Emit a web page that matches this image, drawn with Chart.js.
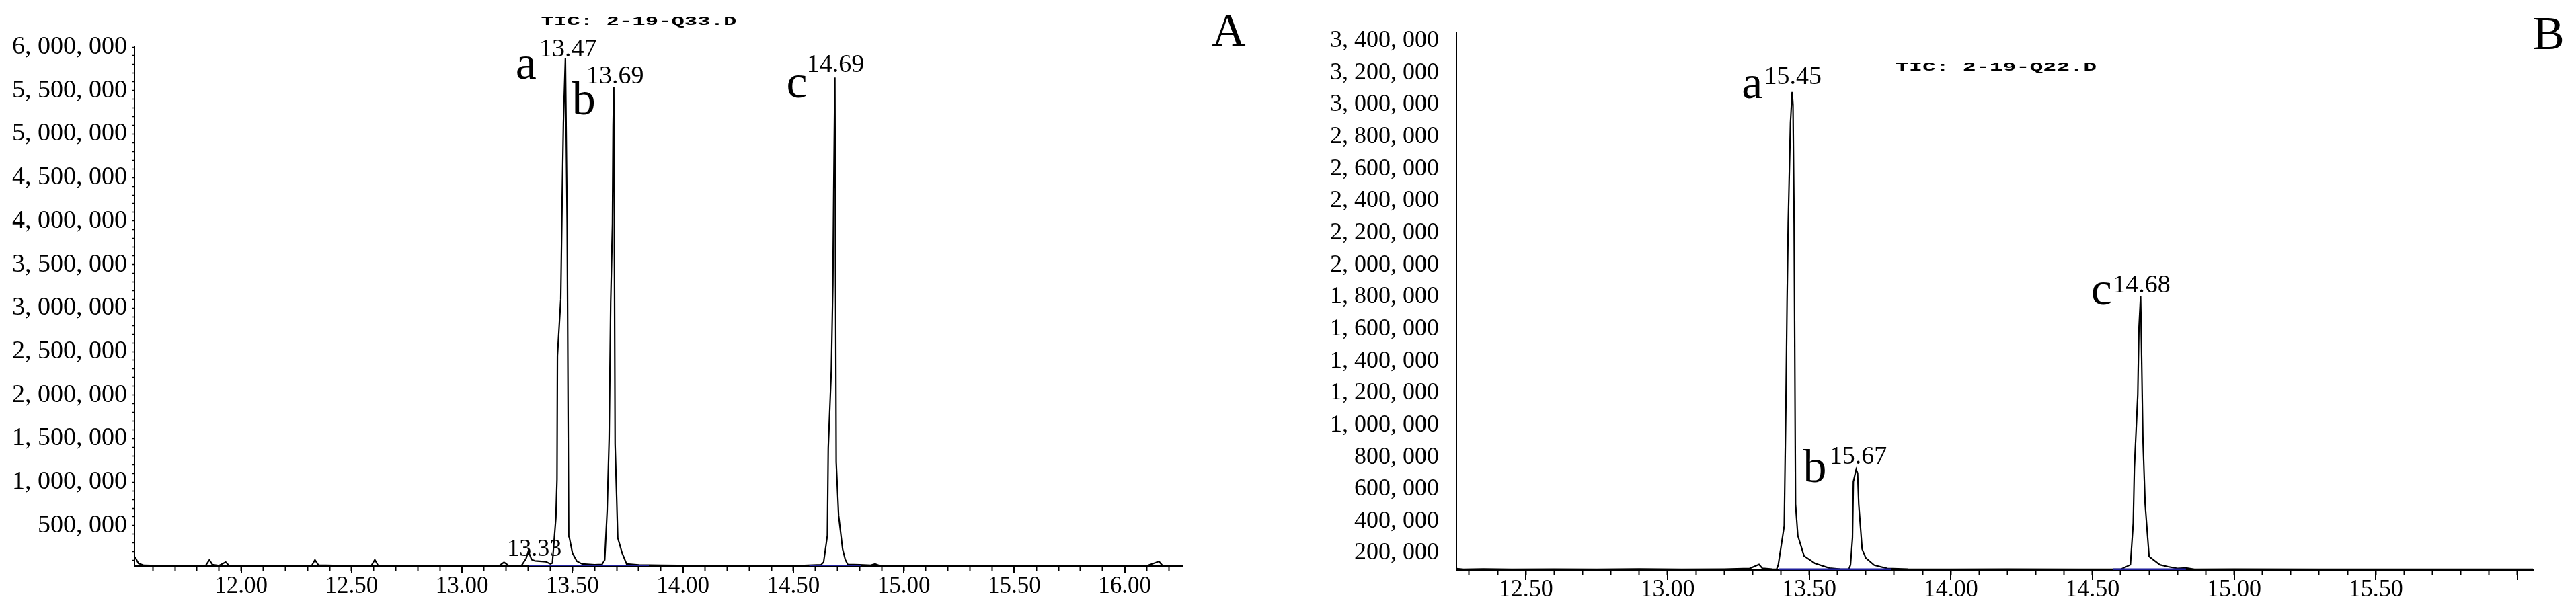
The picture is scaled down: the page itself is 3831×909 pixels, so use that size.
<!DOCTYPE html>
<html lang="en">
<head>
<meta charset="utf-8">
<script src="https://cdn.jsdelivr.net/npm/chart.js@4/dist/chart.umd.min.js"></script>
<style>
    body { margin: 0; background: #fff; }
    #wrap { position: relative; width: 3831px; height: 909px; }
    canvas { position: absolute; top: 0; }
</style>
</head>
<body>
<div id="wrap">
    <canvas id="chart-a" width="1900" height="909" style="left:0;width:1900px;height:909px"></canvas>
    <canvas id="chart-b" width="1931" height="909" style="left:1900px;width:1931px;height:909px"></canvas>
</div>
<script>
// run A: TIC 2-19-Q33.D  (retention time in min, abundance)
const timeA = [11.517, 11.52, 11.535, 11.56, 11.62, 11.70, 11.78, 11.84, 11.856, 11.87, 11.90, 11.93, 11.945, 12.05, 12.20, 12.32, 12.334, 12.35, 12.45, 12.59,
    12.605, 12.62, 12.75, 13.00, 13.17, 13.19, 13.21, 13.27, 13.29, 13.30, 13.315, 13.33, 13.38, 13.40, 13.409, 13.425, 13.43, 13.432, 13.447, 13.453,
    13.459, 13.468, 13.476, 13.483, 13.486, 13.50, 13.52, 13.544, 13.60, 13.634, 13.646, 13.657, 13.666, 13.673, 13.681, 13.684, 13.687, 13.693, 13.70, 13.705,
    13.725, 13.745, 13.80, 13.90, 14.05, 14.30, 14.55, 14.625, 14.637, 14.654, 14.658, 14.672, 14.679, 14.683, 14.688, 14.694, 14.705, 14.723, 14.735, 14.746,
    14.80, 14.85, 14.87, 14.89, 15.10, 15.60, 16.10, 16.14, 16.155, 16.17, 16.26];
const ticA = [140000, 137000, 67000, 44000, 41000, 43000, 40000, 45000, 106000, 52000, 42000, 82000, 42000, 40000, 42000, 44000, 106000, 46000, 41000, 43000,
    108000, 44000, 41000, 40000, 42000, 80000, 42000, 45000, 120000, 205000, 110000, 95000, 85000, 60000, 70000, 590000, 1030000, 2450000, 3100000, 4200000,
    5130000, 5870000, 3970000, 380000, 360000, 183000, 90000, 60000, 50000, 55000, 106000, 670000, 1500000, 3060000, 3970000, 5100000, 5540000, 1440000, 825000, 360000,
    183000, 60000, 48000, 45000, 41000, 40000, 42000, 50000, 80000, 386000, 1390000, 2290000, 3270000, 4400000, 5650000, 1230000, 616000, 230000, 110000, 55000,
    50000, 45000, 60000, 42000, 40000, 41000, 40000, 75000, 90000, 45000, 40000];
const integStartA = [13.304, 14.572];
const integEndA = [13.846, 14.806];
const yLabelsA = [500000, 1000000, 1500000, 2000000, 2500000, 3000000, 3500000, 4000000, 4500000, 5000000, 5500000, 6000000];
const xLabelsA = [12.00, 12.50, 13.00, 13.50, 14.00, 14.50, 15.00, 15.50, 16.00];

// run B: TIC 2-19-Q22.D
const timeB = [12.255, 12.28, 12.35, 12.45, 12.60, 12.75, 12.90, 13.05, 13.20, 13.29, 13.31, 13.323, 13.335, 13.37, 13.385, 13.391, 13.412, 13.418, 13.422, 13.426,
    13.434, 13.44, 13.443, 13.447, 13.452, 13.46, 13.482, 13.52, 13.572, 13.61, 13.64, 13.646, 13.653, 13.656, 13.666, 13.671, 13.675, 13.687, 13.70, 13.73,
    13.776, 13.85, 14.00, 14.20, 14.45, 14.60, 14.634, 14.644, 14.648, 14.66, 14.664, 14.67, 14.673, 14.678, 14.686, 14.70, 14.738, 14.767, 14.80, 14.83,
    14.86, 15.00, 15.30, 15.60, 15.90, 16.055];
const ticB = [104000, 100000, 102000, 100000, 101000, 100000, 102000, 100000, 101000, 105000, 120000, 130000, 106000, 101000, 100000, 128000, 370000, 1140000, 1770000, 2260000,
    2890000, 3080000, 3000000, 2260000, 506000, 310000, 183000, 137000, 107000, 101000, 100000, 128000, 296000, 646000, 724000, 700000, 506000, 226000, 170000, 125000,
    105000, 101000, 100000, 101000, 100000, 100000, 128000, 389000, 729000, 1190000, 1600000, 1807000, 1490000, 926000, 506000, 179000, 128000, 116000, 105000, 108000,
    100000, 101000, 100000, 100000, 100000, 100000];
const integStartB = [13.392, 14.573];
const integEndB = [13.79, 14.83];
const yLabelsB = [200000, 400000, 600000, 800000, 1000000, 1200000, 1400000, 1600000, 1800000, 2000000, 2200000, 2400000, 2600000, 2800000, 3000000, 3200000, 3400000];
const xLabelsB = [12.50, 13.00, 13.50, 14.00, 14.50, 15.00, 15.50];

const SERIF = '"Liberation Serif", "Times New Roman", serif';
Chart.defaults.font.family = SERIF;
Chart.defaults.color = '#000';

function fmtAbund(v) {
    return v.toLocaleString('en-US').replace(/,/g, ', ');
}

// peak letters, retention labels, file name, panel letter, long major ticks
const peakText = {
    id: 'peakText',
    afterDatasetsDraw(chart, args, opts) {
        const ctx = chart.ctx;
        const xs = chart.scales.x, ys = chart.scales.y;
        const area = chart.chartArea;
        ctx.save();

        ctx.strokeStyle = '#000';
        ctx.lineWidth = 2;
        for (const v of opts.majors) {
            const px = Math.round(xs.getPixelForValue(v));
            ctx.beginPath();
            ctx.moveTo(px, area.bottom);
            ctx.lineTo(px, area.bottom + opts.majorLen);
            ctx.stroke();
        }

        ctx.fillStyle = '#000';
        ctx.textBaseline = 'alphabetic';
        for (const it of opts.items) {
            ctx.font = it.font;
            ctx.textAlign = it.align || 'center';
            ctx.fillText(it.text, xs.getPixelForValue(it.x) + it.dx, ys.getPixelForValue(it.y) + it.dy);
        }

        ctx.font = '70px ' + SERIF;
        ctx.textAlign = 'left';
        ctx.fillText(opts.corner.text, area.right + opts.corner.dx, area.top + opts.corner.dy);

        const f = opts.file;
        ctx.font = 'bold 18px "Liberation Mono", monospace';
        const w = ctx.measureText(f.text).width;
        ctx.translate(xs.getPixelForValue(f.x), area.top + f.dy);
        ctx.scale(f.width / w, 1);
        ctx.textAlign = 'center';
        ctx.textBaseline = 'middle';
        ctx.fillText(f.text, 0, 0);
        ctx.restore();
    }
};

function buildChart(id, o) {
    const datasets = [{
        data: o.time.map((t, i) => ({x: t, y: o.tic[i]})),
        borderColor: '#000',
        borderWidth: 2.2,
        pointRadius: 0,
        tension: 0,
        order: 2
    }];
    o.integStart.forEach((s, i) => {
        datasets.push({
            data: [{x: s, y: o.base}, {x: o.integEnd[i], y: o.base}],
            borderColor: '#1f1f9c',
            borderWidth: 2.5,
            pointRadius: 0,
            order: 1
        });
    });

    const xTicks = [];
    for (let k = Math.ceil(o.xMin * 10); k <= Math.floor(o.xMax * 10); k++) xTicks.push(k / 10);
    const majors = xTicks.filter(v => Math.round(v * 10) % 5 === 0);

    return new Chart(document.getElementById(id), {
        type: 'line',
        data: {datasets: datasets},
        options: {
            responsive: false,
            animation: false,
            layout: {padding: {left: 0, right: o.padRight, top: o.padTop, bottom: 0}},
            plugins: {
                legend: {display: false},
                tooltip: {enabled: false},
                peakText: {items: o.items, corner: o.corner, file: o.file, majors: majors, majorLen: o.majorLen}
            },
            scales: {
                x: {
                    type: 'linear',
                    min: o.xMin,
                    max: o.xMax,
                    afterBuildTicks: s => { s.ticks = xTicks.map(v => ({value: v})); },
                    afterFit: s => { s.height = o.xHeight; },
                    ticks: {
                        autoSkip: false,
                        maxRotation: 0,
                        padding: o.xPad,
                        font: {size: o.xFont},
                        callback: v => o.xLabels.some(l => Math.abs(l - v) < 1e-6) ? v.toFixed(2) : ''
                    },
                    grid: {drawOnChartArea: false, tickLength: o.minorLen, tickColor: '#000', tickWidth: 2},
                    border: {color: '#000', width: o.xBorder}
                },
                y: {
                    type: 'linear',
                    min: o.yMin,
                    max: o.yMax,
                    afterBuildTicks: s => { s.ticks = o.yTicks.map(v => ({value: v})); },
                    afterFit: s => { s.width = o.yWidth; },
                    ticks: {
                        autoSkip: false,
                        padding: o.yPad,
                        font: {size: o.yFont},
                        callback: v => o.yLabels.includes(v) ? fmtAbund(v) : ''
                    },
                    grid: {drawOnChartArea: false, drawTicks: o.yTickLen > 0, tickLength: o.yTickLen, tickColor: '#000', tickWidth: 1.5},
                    border: {color: '#000', width: 2}
                }
            }
        },
        plugins: [peakText]
    });
}

const yTicksA = [];
for (let v = 100000; v <= 6000000; v += 100000) yTicksA.push(v);

buildChart('chart-a', {
    time: timeA, tic: ticA, integStart: integStartA, integEnd: integEndA, base: 40000,
    xMin: 11.517, xMax: 16.26, yMin: 36000, yMax: 6000000,
    yTicks: yTicksA, yLabels: yLabelsA, xLabels: xLabelsA,
    padRight: 142, padTop: 70, xHeight: 67, yWidth: 200,
    xPad: 3, xFont: 35, yPad: 7, yFont: 38, yTickLen: 4,
    minorLen: 7, majorLen: 11, xBorder: 2,
    items: [
        {text: 'a', x: 13.468, y: 5870000, dx: -43, dy: 30, font: '70px ' + SERIF, align: 'right'},
        {text: '13.47', x: 13.468, y: 5870000, dx: 4, dy: -3, font: '38px ' + SERIF},
        {text: 'b', x: 13.687, y: 5540000, dx: -27, dy: 40, font: '70px ' + SERIF, align: 'right'},
        {text: '13.69', x: 13.687, y: 5540000, dx: 2, dy: -6, font: '38px ' + SERIF},
        {text: 'c', x: 14.688, y: 5650000, dx: -41, dy: 30, font: '70px ' + SERIF, align: 'right'},
        {text: '14.69', x: 14.688, y: 5650000, dx: 1, dy: -8, font: '38px ' + SERIF},
        {text: '13.33', x: 13.30, y: 205000, dx: 9, dy: 7, font: '36px ' + SERIF}
    ],
    corner: {text: 'A', dx: 44, dy: -2},
    file: {text: 'TIC: 2-19-Q33.D', x: 13.80, dy: -38, width: 291}
});

buildChart('chart-b', {
    time: timeB, tic: ticB, integStart: integStartB, integEnd: integEndB, base: 100000,
    xMin: 12.255, xMax: 16.055, yMin: 95000, yMax: 3455000,
    yTicks: yLabelsB, yLabels: yLabelsB, xLabels: xLabelsB,
    padRight: 64, padTop: 47, xHeight: 61, yWidth: 266,
    xPad: 0, xFont: 36, yPad: 26, yFont: 36, yTickLen: 0,
    minorLen: 8, majorLen: 15, xBorder: 3,
    items: [
        {text: 'a', x: 13.44, y: 3080000, dx: -44, dy: 9, font: '70px ' + SERIF, align: 'right'},
        {text: '15.45', x: 13.44, y: 3080000, dx: 1, dy: -12, font: '38px ' + SERIF},
        {text: 'b', x: 13.666, y: 724000, dx: -44, dy: 19, font: '70px ' + SERIF, align: 'right'},
        {text: '15.67', x: 13.666, y: 724000, dx: 3, dy: -8, font: '38px ' + SERIF},
        {text: 'c', x: 14.671, y: 1807000, dx: -43, dy: 13, font: '70px ' + SERIF, align: 'right'},
        {text: '14.68', x: 14.671, y: 1807000, dx: 1, dy: -5, font: '38px ' + SERIF}
    ],
    corner: {text: 'B', dx: 0, dy: 25},
    file: {text: 'TIC: 2-19-Q22.D', x: 14.16, dy: 53, width: 299}
});
</script>
</body>
</html>
